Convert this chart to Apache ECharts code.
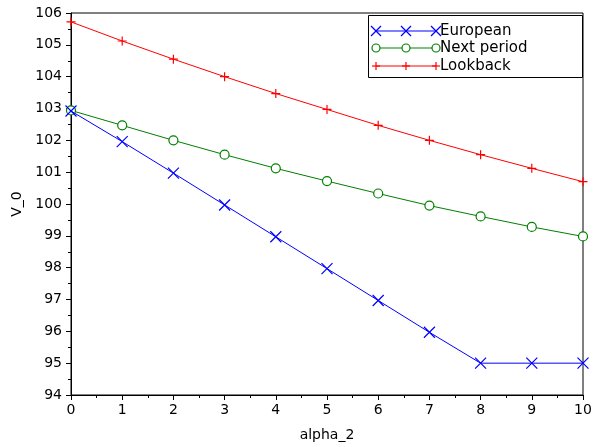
<!DOCTYPE html>
<html><head><meta charset="utf-8">
<script src="https://cdn.jsdelivr.net/npm/echarts@6/dist/echarts.min.js"></script>
<style>html,body{margin:0;padding:0;background:#fff}#c{width:595px;height:447px}</style>
</head><body><div id="c"></div>
<script>
var alpha2 = [0,1,2,3,4,5,6,7,8,9,10];
var european = [102.92,101.96,100.97,99.97,98.97,97.97,96.97,95.97,95.0,95.0,95.0];
var nextPeriod = [102.94,102.47,102.0,101.55,101.12,100.72,100.33,99.95,99.61,99.28,98.98];
var lookback = [105.72,105.12,104.55,104.0,103.47,102.97,102.47,102.0,101.55,101.12,100.7];
var seriesNames = ['European','Next period','Lookback'];
var yTicks = [94,95,96,97,98,99,100,101,102,103,104,105,106];

var FONT = 'DejaVu Sans';
var xPath = 'path://M0,0L10,10M10,0L0,10';
var plusPath = 'path://M5,0L5,10M0,5L10,5';

function pairs(v){ return alpha2.map(function(x,i){ return [x, v[i]]; }); }

var chart = echarts.init(document.getElementById('c'));

// legend drawn as graphic (line with three markers)
var legX0 = 376, legX1 = 436, legY = [31, 48, 66];
var legColors = ['#0000ff', '#008000', '#ff0000'];
var g = [{type:'rect', shape:{x:368.5, y:15.5, width:214, height:62}, style:{fill:'#fff', stroke:'#000', lineWidth:1}, z:10}];
for (var i=0;i<3;i++){
  var y = legY[i], c = legColors[i];
  g.push({type:'line', shape:{x1:legX0,y1:y,x2:legX1,y2:y}, style:{stroke:c, lineWidth:1}, z:11});
  [legX0, (legX0+legX1)/2, legX1].forEach(function(mx){
    if (i===0) g.push({type:'polyline', shape:{points:[[mx-5,y-5],[mx+5,y+5]]}, style:{stroke:c,lineWidth:1.2,fill:null}, z:12},
                       {type:'polyline', shape:{points:[[mx+5,y-5],[mx-5,y+5]]}, style:{stroke:c,lineWidth:1.2,fill:null}, z:12});
    if (i===1) g.push({type:'circle', shape:{cx:mx,cy:y,r:4}, style:{stroke:c,lineWidth:1.2,fill:'#fff'}, z:12});
    if (i===2) g.push({type:'polyline', shape:{points:[[mx,y-4],[mx,y+4]]}, style:{stroke:c,lineWidth:1.2,fill:null}, z:12},
                       {type:'polyline', shape:{points:[[mx-4,y],[mx+4,y]]}, style:{stroke:c,lineWidth:1.2,fill:null}, z:12});
  });
  g.push({type:'text', x:440, y:y, style:{text:seriesNames[i], fill:'#000', font:'15px "'+FONT+'"', verticalAlign:'middle'}, z:12});
}

chart.setOption({
  animation:false,
  backgroundColor:'#fff',
  textStyle:{fontFamily:FONT},
  grid:{left:71, right:12, top:13, bottom:50, show:true, borderColor:'#000', borderWidth:1},
  xAxis:{type:'value', min:0, max:10, interval:1, name:'alpha_2', nameLocation:'middle', nameGap:33,
    nameTextStyle:{fontSize:14, color:'#000', fontFamily:FONT},
    axisLine:{show:true, onZero:false, lineStyle:{color:'#000'}},
    axisTick:{show:true, length:5, lineStyle:{color:'#000'}},
    minorTick:{show:true, splitNumber:2, length:3, lineStyle:{color:'#000'}},
    splitLine:{show:false},
    axisLabel:{fontSize:14, color:'#000', margin:8, fontFamily:FONT}},
  yAxis:{type:'value', min:94, max:106, interval:1, name:'V_0', nameLocation:'middle', nameGap:46,
    nameTextStyle:{fontSize:14, color:'#000', fontFamily:FONT},
    axisLine:{show:true, onZero:false, lineStyle:{color:'#000'}},
    axisTick:{show:true, length:5, lineStyle:{color:'#000'}},
    minorTick:{show:true, splitNumber:2, length:3, lineStyle:{color:'#000'}},
    splitLine:{show:false},
    axisLabel:{fontSize:14, color:'#000', margin:9, fontFamily:FONT,
      formatter:function(v){ return yTicks.indexOf(v)>=0 ? String(v) : ''; }}},
  graphic:g,
  series:[
    {name:seriesNames[0], type:'line', data:pairs(european), symbol:xPath, symbolSize:11, showAllSymbol:true,
      lineStyle:{color:'#0000ff', width:1}, itemStyle:{color:'rgba(0,0,0,0)', borderColor:'#0000ff', borderWidth:1.2},
      emphasis:{disabled:true}, z:3},
    {name:seriesNames[1], type:'line', data:pairs(nextPeriod), symbol:'circle', symbolSize:9, showAllSymbol:true,
      lineStyle:{color:'#008000', width:1}, itemStyle:{color:'#fff', borderColor:'#008000', borderWidth:1.2},
      emphasis:{disabled:true}, z:2},
    {name:seriesNames[2], type:'line', data:pairs(lookback), symbol:plusPath, symbolSize:9, showAllSymbol:true,
      lineStyle:{color:'#ff0000', width:1}, itemStyle:{color:'rgba(0,0,0,0)', borderColor:'#ff0000', borderWidth:1.2},
      emphasis:{disabled:true}, z:2}
  ]
});
</script></body></html>
